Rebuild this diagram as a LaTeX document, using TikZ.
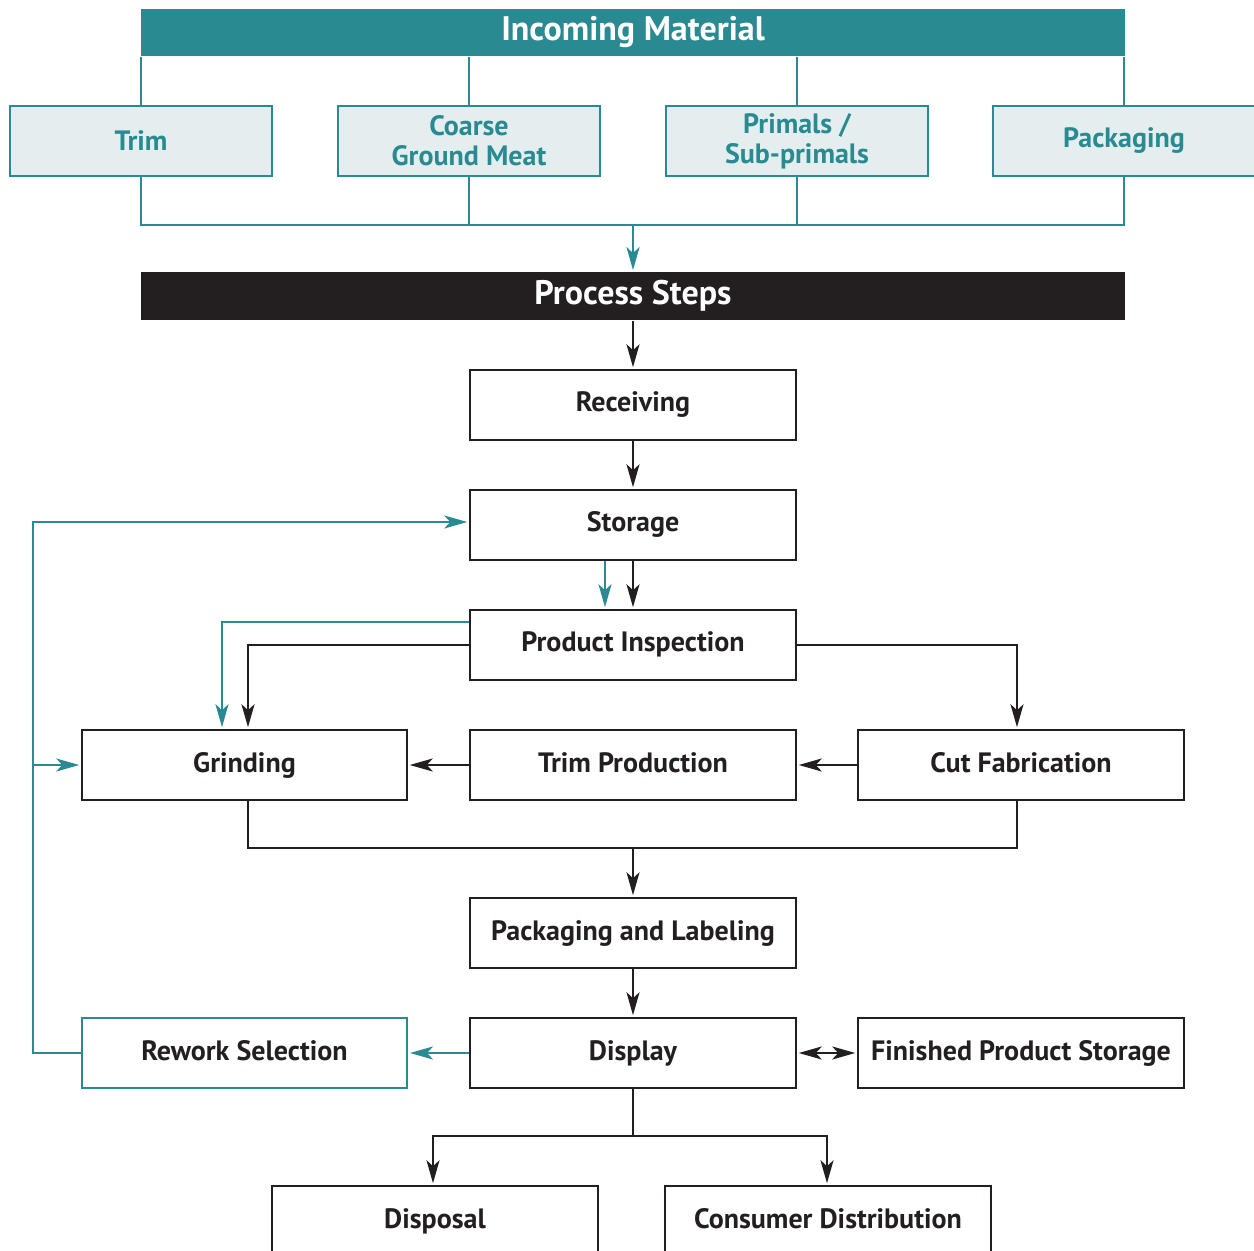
\documentclass[tikz,border=0pt]{standalone}
\usepackage{fontspec}
\setmainfont{PT Sans}
\usetikzlibrary{arrows.meta,calc}
\definecolor{teal1}{HTML}{2A8A91}
\definecolor{lightteal}{HTML}{E4EEEE}
\definecolor{ink}{HTML}{231F20}
\begin{document}
\begin{tikzpicture}[x=0.5pt,y=-0.5pt,
  box/.style={draw=ink,line width=0.75pt,fill=white,minimum width=163pt,minimum height=35pt,inner sep=0pt,text height=10pt,text depth=3pt,font=\bfseries\fontsize{14}{15}\selectfont,text=ink},
  rbox/.style={box,draw=teal1,line width=1pt},
  sub/.style={draw=teal1,line width=0.75pt,fill=lightteal,minimum width=131pt,minimum height=35pt,inner sep=0pt,align=center,font=\bfseries\fontsize{14}{15}\selectfont,text=teal1},
  bar/.style={minimum width=492pt,minimum height=23.5pt,inner sep=0pt,text height=11.5pt,text depth=3.5pt,text=white,font=\bfseries\fontsize{17}{19}\selectfont},
  tline/.style={draw=teal1,line width=1.2pt},
  bline/.style={draw=ink,line width=1.2pt},
  tip/.style={},
  arr/.style={bline,-{Stealth[length=11.5pt,width=6.5pt,inset=3pt]},shorten >=1pt},
  tarr/.style={tline,-{Stealth[length=11.5pt,width=6.5pt,inset=3pt]},shorten >=1pt}
]
\useasboundingbox (0,0) rectangle (1254,1251);
\clip (0,0) rectangle (1254,1251);

% incoming
\node[bar,fill=teal1] (inc) at (633,33) {Incoming Material};
\node[sub] (trim) at (141,141) {Trim};
\node[sub] (coarse) at (469,141) {Coarse\\Ground Meat};
\node[sub] (prim) at (797,141) {Primals /\\Sub-primals};
\node[sub] (pack) at (1124,141) {Packaging};
\coordinate (jn) at (633,225);
\foreach \b in {trim,coarse,prim,pack}{
  \draw[tline] (inc.south -| \b) -- (\b.north);
}
\draw[tline] (trim.south) -- (trim.south |- jn) -- (pack.south |- jn) -- (pack.south);
\draw[tline] (coarse.south) -- (coarse.south |- jn);
\draw[tline] (prim.south) -- (prim.south |- jn);

\node[bar,fill=ink,minimum height=24pt] (proc) at (633,296.5) {Process Steps};
\draw[tarr] (jn) -- (proc.north);

% process
\node[box] (rec) at (633,405) {Receiving};
\node[box] (sto) at (633,525) {Storage};
\node[box] (pi) at (633,645) {Product Inspection};
\node[box,minimum width=162.5pt] (gri) at (244.5,765) {Grinding};
\node[box] (tp) at (633,765) {Trim Production};
\node[box] (cf) at (1021,765) {Cut Fabrication};
\node[box] (pl) at (633,933) {Packaging and Labeling};
\node[box] (dis) at (633,1053) {Display};
\node[rbox,minimum width=162.5pt] (rw) at (244.5,1053) {Rework Selection};
\node[box] (fps) at (1021,1053) {Finished Product Storage};
\node[box] (dsp) at (435,1221) {Disposal};
\node[box] (cd) at (828,1221) {Consumer Distribution};

\draw[arr] (proc.south) -- (rec.north);
\draw[arr] (rec.south) -- (sto.north);
\draw[arr] (sto.south) -- (pi.north);
\draw[tarr] ($(sto.south)+(-28,0)$) -- ($(pi.north)+(-28,0)$);
\draw[tarr] ($(pi.west)+(0,-23)$) -| ($(gri.north)+(-22.5,0)$);
\draw[arr] (pi.west) -| ($(gri.north)+(3.5,0)$);
\draw[arr] (pi.east) -| ($(cf.north)+(-4,0)$);
\draw[arr] (cf.west) -- (tp.east);
\draw[arr] (tp.west) -- (gri.east);

\coordinate (jb) at (633,848);
\draw[bline] ($(gri.south)+(3.5,0)$) |- (jb) -| ($(cf.south)+(-4,0)$);
\draw[arr] (jb) -- (pl.north);
\draw[arr] (pl.south) -- (dis.north);
\draw[tarr] (dis.west) -- (rw.east);
\draw[bline,{Stealth[length=11.5pt,width=6.5pt,inset=3pt]}-{Stealth[length=11.5pt,width=6.5pt,inset=3pt]},shorten >=1pt,shorten <=1pt] (dis.east) -- (fps.west);

\coordinate (jd) at (633,1136);
\draw[bline] (dis.south) -- (jd);
\draw[arr] (jd) -| ($(dsp.north)+(-2,0)$);
\draw[arr] (jd) -| ($(cd.north)+(-1,0)$);

\coordinate (lx) at (33,765);
\draw[tarr] (rw.west) -- (rw.west -| lx) |- ($(sto.west)+(0,-3)$);
\draw[tarr] (gri.west -| lx) -- (gri.west);
\end{tikzpicture}
\end{document}
